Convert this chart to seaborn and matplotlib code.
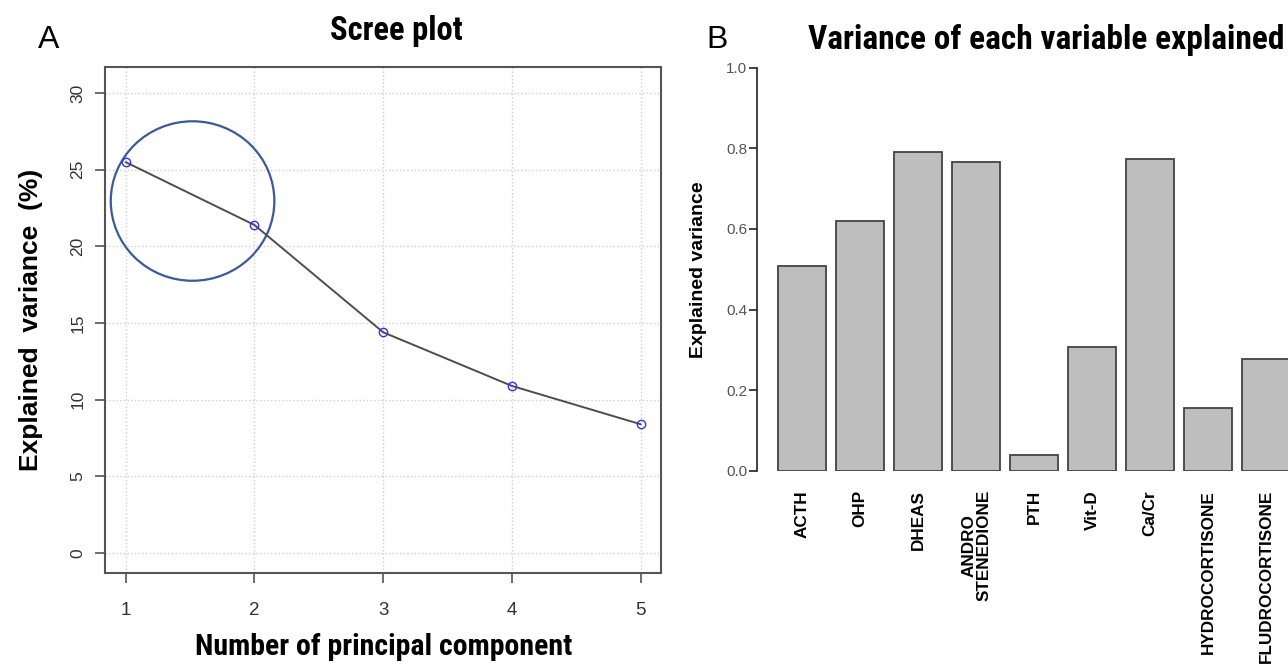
import numpy as np
import pandas as pd
import seaborn as sns
import matplotlib.pyplot as plt
from matplotlib.patches import Ellipse

# data
pcs = [1, 2, 3, 4, 5]
explained_pct = [25.5, 21.4, 14.4, 10.9, 8.4]

variables = ['ACTH', 'OHP', 'DHEAS', 'ANDRO\nSTENEDIONE', 'PTH', 'Vit-D',
             'Ca/Cr', 'HYDROCORTISONE', 'FLUDROCORTISONE']
var_explained = [0.508, 0.62, 0.79, 0.765, 0.04, 0.306, 0.773, 0.155, 0.277]

sns.set_style('white')
plt.rcParams['font.family'] = ['Liberation Sans', 'DejaVu Sans']
plt.rcParams['text.color'] = 'black'
plt.rcParams['axes.labelcolor'] = 'black'
narrow = ['Liberation Sans Narrow', 'Roboto Condensed', 'Archivo Narrow',
          'Liberation Sans', 'DejaVu Sans']

fig = plt.figure(figsize=(12.88, 6.66), dpi=100)

# ---- A: scree plot
ax1 = fig.add_axes([0.0815, 0.1396, 0.432, 0.7598])
df_scree = pd.DataFrame({'pc': pcs, 'var': explained_pct})
sns.lineplot(data=df_scree, x='pc', y='var', ax=ax1, color='#4d4d4d', linewidth=1.4,
             marker='o', markersize=6, markerfacecolor='none',
             markeredgecolor='#3030ff', markeredgewidth=1.0)
ax1.set_xlim(0.84, 5.16)
ax1.set_ylim(-1.3, 31.7)
ax1.set_xticks(pcs)
ax1.set_yticks([0, 5, 10, 15, 20, 25, 30])
ax1.grid(True, linestyle=':', color='#cfcfcf', linewidth=1.0)
for s in ax1.spines.values():
    s.set_color('#555555')
    s.set_linewidth(1.5)
ax1.tick_params(axis='both', which='both', direction='out', length=7, width=1.2,
                color='#555555', labelcolor='#333333', bottom=True, left=True)
ax1.tick_params(axis='x', pad=14, labelsize=13.5)
ax1.tick_params(axis='y', pad=7, labelsize=12.5, labelrotation=90)
for lab in ax1.get_yticklabels():
    lab.set_va('center')
ax1.set_xlabel('Number of principal component', fontsize=21.5, fontweight='bold',
               family=narrow, labelpad=10)
ax1.set_ylabel('Explained  variance  (%)', fontsize=19, fontweight='bold', labelpad=20)

circle = Ellipse((1.52, 22.96), width=1.27, height=10.4, fill=False,
                 edgecolor='#3a5a9a', linewidth=1.6)
ax1.add_patch(circle)

fig.text(0.3075, 0.953, 'Scree plot', fontsize=23.5, fontweight='bold',
         family=narrow, ha='center', va='center')

# ---- B: variance of each variable
ax2 = fig.add_axes([0.5877, 0.2932, 0.4123, 0.6051])
df_var = pd.DataFrame({'variable': variables, 'value': var_explained})
sns.barplot(data=df_var, x='variable', y='value', ax=ax2, color='#bebebe',
            saturation=1, edgecolor='#444444', linewidth=1.3, width=0.83)
ax2.set_xlim(-0.78, 8.38)
ax2.set_ylim(0, 1.0)
ax2.set_yticks([0.0, 0.2, 0.4, 0.6, 0.8, 1.0])
ax2.set_yticklabels(['0.0', '0.2', '0.4', '0.6', '0.8', '1.0'])
for side in ['top', 'right', 'bottom']:
    ax2.spines[side].set_visible(False)
ax2.spines['left'].set_color('#222222')
ax2.spines['left'].set_linewidth(1.2)
ax2.tick_params(axis='y', direction='out', length=6, width=1.2, color='#222222',
                labelsize=11, labelcolor='#555555', pad=1, left=True)
ax2.tick_params(axis='x', length=0, pad=14, labelsize=12.3, labelcolor='black')
ax2.set_xticks(range(len(variables)))
ax2.set_xticklabels(variables, rotation=90, fontweight='bold')
for lab in ax2.get_xticklabels():
    lab.set_va('top')
    lab.set_multialignment('center')
    lab.set_linespacing(1.0)
ax2.set_xlabel('')
ax2.set_ylabel('Explained variance', fontsize=14, fontweight='bold', labelpad=14)

fig.text(0.812, 0.94, 'Variance of each variable explained', fontsize=24,
         fontweight='bold', family=narrow, ha='center', va='center')

# panel letters
fig.text(0.0375, 0.94, 'A', fontsize=23, ha='center', va='center')
fig.text(0.557, 0.94, 'B', fontsize=23, ha='center', va='center')

fig.savefig('out.png', dpi=100)
